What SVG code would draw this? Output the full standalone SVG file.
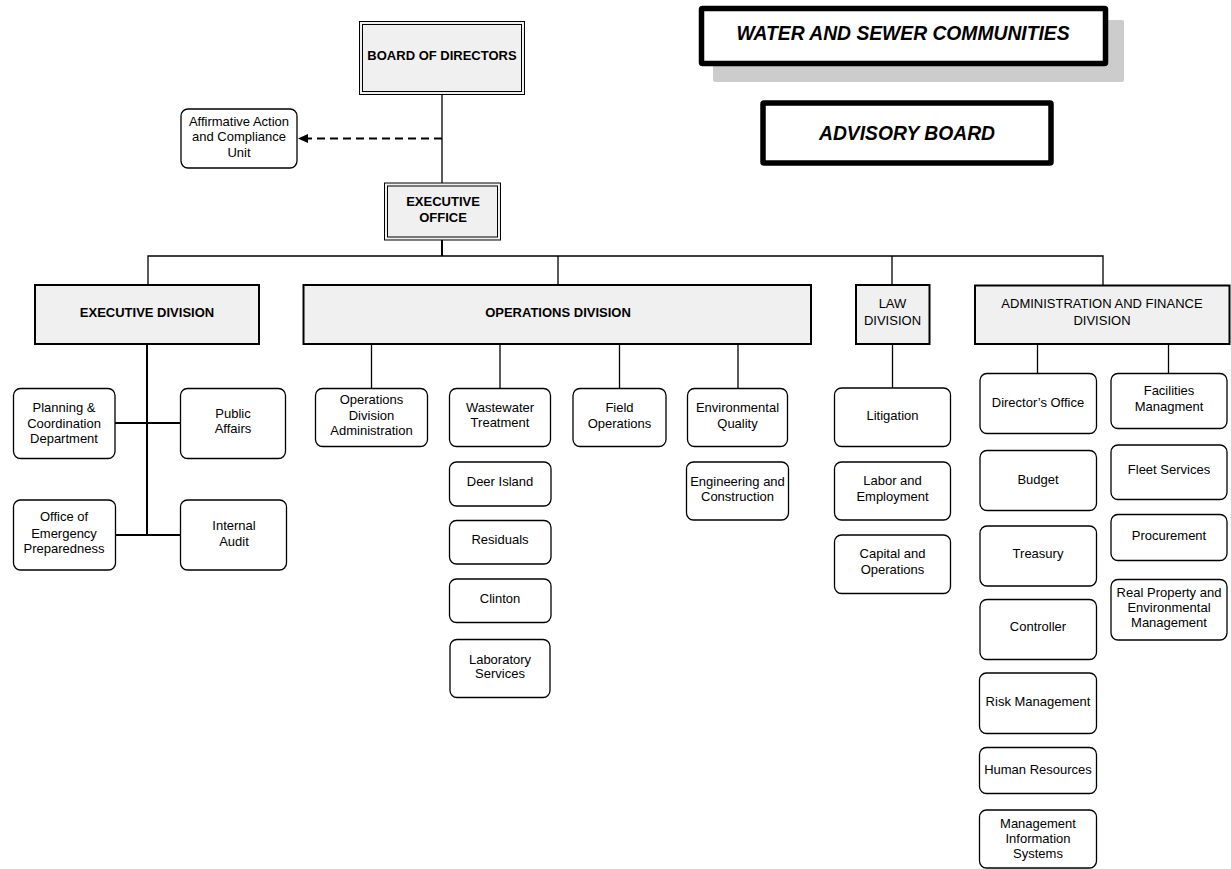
<svg xmlns="http://www.w3.org/2000/svg" width="1231" height="869" viewBox="0 0 1231 869">
<style>
text{font-family:"Liberation Sans",Arial,sans-serif;font-size:13px;fill:#000;text-anchor:middle}
.b{font-weight:bold}
.bi{font-weight:bold;font-style:italic;font-size:19.3px}
.unit{fill:#fff;stroke:#000;stroke-width:1.3}
.div{fill:#f0f0f0;stroke:#000;stroke-width:2}
.dbl{fill:#f0f0f0;stroke:#000;stroke-width:1}
.dbli{fill:none;stroke:#000;stroke-width:1}
.heavy{fill:#fff;stroke:#000;stroke-width:5.5}
.c{fill:none;stroke:#000;stroke-width:1.3}
.c2{fill:none;stroke:#000;stroke-width:2}
</style>
<defs>
<marker id="ah" markerWidth="10" markerHeight="10" refX="9" refY="5" orient="auto" markerUnits="userSpaceOnUse">
<path d="M0,0.5 L10,5 L0,9.5 Z" fill="#000"/>
</marker>
</defs>

<g id="connectors">
<line class="c" x1="442" y1="95" x2="442" y2="183"/>
<line x1="442" y1="138.5" x2="299" y2="138.5" stroke="#000" stroke-width="2.2" stroke-dasharray="8,5" marker-end="url(#ah)"/>
<line class="c2" x1="442" y1="240" x2="442" y2="256"/>
<polyline class="c" points="148,285 148,256 1103,256 1103,285"/>
<line class="c" x1="558" y1="256" x2="558" y2="285"/>
<line class="c" x1="892" y1="256" x2="892" y2="285"/>
<line class="c2" x1="147" y1="344" x2="147" y2="535"/>
<line class="c2" x1="115" y1="423" x2="181" y2="423"/>
<line class="c2" x1="115" y1="535" x2="181" y2="535"/>
<line class="c" x1="371.5" y1="344" x2="371.5" y2="388"/>
<line class="c" x1="500" y1="344" x2="500" y2="388"/>
<line class="c" x1="619.5" y1="344" x2="619.5" y2="388"/>
<line class="c" x1="738" y1="344" x2="738" y2="388"/>
<line class="c" x1="892.5" y1="344" x2="892.5" y2="388"/>
<line class="c" x1="1037.5" y1="344" x2="1037.5" y2="373"/>
<line class="c" x1="1168.5" y1="344" x2="1168.5" y2="373"/>
</g>

<g id="water-sewer">
<rect x="713" y="20" width="411" height="62" rx="2" fill="#cccccc"/>
<rect class="heavy" x="701.5" y="8.5" width="404" height="55" rx="1"/>
<text class="bi" x="903" y="39.5">WATER AND SEWER COMMUNITIES</text>
</g>
<g id="advisory">
<rect class="heavy" x="763" y="103" width="288" height="60" rx="1"/>
<text class="bi" x="907" y="140">ADVISORY BOARD</text>
</g>

<g id="board">
<rect class="dbl" x="359.5" y="21.5" width="165" height="73"/>
<rect class="dbli" x="362.5" y="24.5" width="159" height="67"/>
<text class="b" x="442" y="60">BOARD OF DIRECTORS</text>
</g>
<g id="affirmative">
<rect class="unit" x="181" y="109" width="116" height="59" rx="7"/>
<text x="239" y="125.5">Affirmative Action</text>
<text x="239" y="141">and Compliance</text>
<text x="239" y="156.5">Unit</text>
</g>
<g id="exec-office">
<rect class="dbl" x="384.5" y="183" width="116" height="57"/>
<rect class="dbli" x="387.5" y="186" width="110" height="51"/>
<text class="b" x="443" y="206">EXECUTIVE</text>
<text class="b" x="443" y="222">OFFICE</text>
</g>

<g id="exec-div">
<rect class="div" x="35" y="285" width="224" height="59"/>
<text class="b" x="147" y="317">EXECUTIVE DIVISION</text>
</g>
<g id="ops-div">
<rect class="div" x="303.5" y="285" width="507.5" height="59"/>
<text class="b" x="558" y="317">OPERATIONS DIVISION</text>
</g>
<g id="law-div">
<rect class="div" x="856" y="285" width="73.5" height="59"/>
<text x="892.5" y="308">LAW</text>
<text x="892.5" y="324.5">DIVISION</text>
</g>
<g id="admin-div">
<rect class="div" x="975" y="285.5" width="254.5" height="58.5"/>
<text x="1102" y="308">ADMINISTRATION AND FINANCE</text>
<text x="1102" y="324.5">DIVISION</text>
</g>

<g id="planning">
<rect class="unit" x="13.5" y="388.5" width="101.5" height="70" rx="7"/>
<text x="64" y="412">Planning &amp;</text>
<text x="64" y="427.5">Coordination</text>
<text x="64" y="443">Department</text>
</g>
<g id="public-affairs">
<rect class="unit" x="180.5" y="388.5" width="105" height="70" rx="7"/>
<text x="233" y="418">Public</text>
<text x="233" y="433">Affairs</text>
</g>
<g id="emergency">
<rect class="unit" x="13.5" y="500" width="102" height="70" rx="7"/>
<text x="64" y="521">Office of</text>
<text x="64" y="537.5">Emergency</text>
<text x="64" y="553">Preparedness</text>
</g>
<g id="audit">
<rect class="unit" x="180.5" y="500" width="106" height="70" rx="7"/>
<text x="234" y="529.5">Internal</text>
<text x="234" y="545.5">Audit</text>
</g>

<g id="ops-admin">
<rect class="unit" x="315.5" y="388.5" width="112" height="58" rx="7"/>
<text x="371.5" y="404">Operations</text>
<text x="371.5" y="419.5">Division</text>
<text x="371.5" y="435">Administration</text>
</g>
<g id="wastewater">
<rect class="unit" x="449.5" y="388.5" width="101" height="58" rx="7"/>
<text x="500" y="412">Wastewater</text>
<text x="500" y="427">Treatment</text>
</g>
<g id="deer-island">
<rect class="unit" x="449.5" y="462" width="101.5" height="44" rx="7"/>
<text x="500" y="486">Deer Island</text>
</g>
<g id="residuals">
<rect class="unit" x="449.5" y="520.5" width="101.5" height="43.5" rx="7"/>
<text x="500" y="544">Residuals</text>
</g>
<g id="clinton">
<rect class="unit" x="449.5" y="579" width="101.5" height="43.5" rx="7"/>
<text x="500" y="603">Clinton</text>
</g>
<g id="laboratory">
<rect class="unit" x="450" y="639.5" width="100" height="58" rx="7"/>
<text x="500" y="663.5">Laboratory</text>
<text x="500" y="678">Services</text>
</g>
<g id="field-ops">
<rect class="unit" x="573" y="388.5" width="93" height="58" rx="7"/>
<text x="619.5" y="412">Field</text>
<text x="619.5" y="427.5">Operations</text>
</g>
<g id="env-quality">
<rect class="unit" x="687.5" y="388.5" width="100" height="58" rx="7"/>
<text x="737.5" y="412">Environmental</text>
<text x="737.5" y="427.5">Quality</text>
</g>
<g id="engineering">
<rect class="unit" x="686.5" y="462" width="102" height="58" rx="7"/>
<text x="737.5" y="485.5">Engineering and</text>
<text x="737.5" y="501">Construction</text>
</g>

<g id="litigation">
<rect class="unit" x="834.5" y="388" width="116" height="58.5" rx="7"/>
<text x="892.5" y="419.5">Litigation</text>
</g>
<g id="labor">
<rect class="unit" x="834.5" y="462" width="116" height="58" rx="7"/>
<text x="892.5" y="485">Labor and</text>
<text x="892.5" y="501">Employment</text>
</g>
<g id="capital">
<rect class="unit" x="834.5" y="535" width="116" height="58.5" rx="7"/>
<text x="892.5" y="558">Capital and</text>
<text x="892.5" y="574">Operations</text>
</g>

<g id="directors-office">
<rect class="unit" x="980" y="373.5" width="116.5" height="60" rx="7"/>
<text x="1038" y="406.5">Director’s Office</text>
</g>
<g id="budget">
<rect class="unit" x="980" y="450.5" width="116.5" height="60" rx="7"/>
<text x="1038" y="483.5">Budget</text>
</g>
<g id="treasury">
<rect class="unit" x="980" y="526" width="116.5" height="60" rx="7"/>
<text x="1038" y="558">Treasury</text>
</g>
<g id="controller">
<rect class="unit" x="980" y="599.5" width="116.5" height="60" rx="7"/>
<text x="1038" y="631">Controller</text>
</g>
<g id="risk">
<rect class="unit" x="979.5" y="673" width="117" height="60.5" rx="7"/>
<text x="1038" y="705.5">Risk Management</text>
</g>
<g id="hr">
<rect class="unit" x="979.5" y="747.5" width="117" height="46" rx="7"/>
<text x="1038" y="774">Human Resources</text>
</g>
<g id="mis">
<rect class="unit" x="979.5" y="810" width="117" height="58" rx="7"/>
<text x="1038" y="827.5">Management</text>
<text x="1038" y="842.5">Information</text>
<text x="1038" y="857.5">Systems</text>
</g>

<g id="facilities">
<rect class="unit" x="1111" y="373.5" width="116" height="55" rx="7"/>
<text x="1169" y="395">Facilities</text>
<text x="1169" y="410.5">Managment</text>
</g>
<g id="fleet">
<rect class="unit" x="1111" y="445" width="116" height="54.5" rx="7"/>
<text x="1169" y="474">Fleet Services</text>
</g>
<g id="procurement">
<rect class="unit" x="1111" y="514.5" width="116" height="46" rx="7"/>
<text x="1169" y="540">Procurement</text>
</g>
<g id="real-property">
<rect class="unit" x="1111" y="579.5" width="116" height="60.5" rx="7"/>
<text x="1169" y="596.5">Real Property and</text>
<text x="1169" y="612">Environmental</text>
<text x="1169" y="627">Management</text>
</g>
</svg>
